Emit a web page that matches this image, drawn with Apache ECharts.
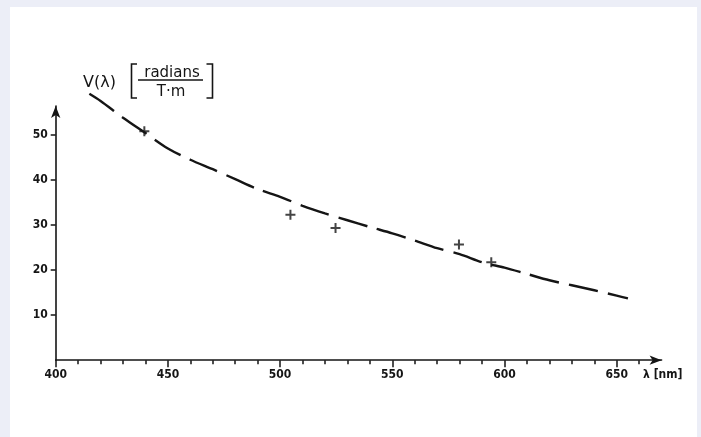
<!DOCTYPE html>
<html><head><meta charset="utf-8">
<script src="https://cdn.jsdelivr.net/npm/echarts@6/dist/echarts.min.js"></script>
<style>
html,body{margin:0;padding:0;background:#eceef7;}
#wrap{position:relative;width:701px;height:437px;background:#eceef7;overflow:hidden;}
#chart{position:absolute;left:10px;top:7px;width:687px;height:430px;background:#fff;}
</style></head><body><div id="wrap"><div id="chart"></div></div>
<script>
// Fitted curve V(lambda)
const curveWavelengths = [415,420,430,440,450,460,470,480,490,500,510,520,530,540,550,560,570,580,590,600,610,620,630,640,650,655];
const curveValues = [59.0,57.4,53.7,50.3,46.9,44.4,42.3,40.1,37.9,36.2,34.2,32.5,31.0,29.5,28.1,26.5,24.8,23.5,21.7,20.5,19.1,17.7,16.6,15.5,14.3,13.7];
// Measured points (+)
const measuredWavelengths = [439.5,504.6,524.7,579.7,594.1];
const measuredValues = [50.7,32.2,29.3,25.6,21.7];
// Axis ticks
const xMajorTicks = [400,450,500,550,600,650];
const xMinorTicks = [410,420,430,440,460,470,480,490,510,520,530,540,560,570,580,590,610,620,630,640,660];
const yTicks = [10,20,30,40,50];
const xMin = 400, xMax = 670, yMin = 0, yMax = 56.3;

const ink = '#151515';
const font = 'DejaVu Sans Condensed';
const chart = echarts.init(document.getElementById('chart'), null, {renderer:'canvas'});
const curveData = curveWavelengths.map((x,i)=>[x, curveValues[i]]);
const pointData = measuredWavelengths.map((x,i)=>[x, measuredValues[i]]);

chart.setOption({
  animation:false,
  backgroundColor:'#ffffff',
  grid:{left:45.7, top:99, width:605.9, height:254.2, containLabel:false},
  xAxis:[{
    type:'value', min:xMin, max:xMax, position:'bottom',
    name:'λ [nm]', nameLocation:'end', nameGap:-18.5,
    nameTextStyle:{color:ink, fontFamily:font, fontSize:12, fontWeight:'bold', verticalAlign:'top', align:'left', padding:[9,0,0,0]},
    axisLine:{show:true, onZero:false, symbol:['none','arrow'], symbolSize:[7,12], lineStyle:{color:ink, width:1.6}},
    axisTick:{show:true, customValues:xMajorTicks, length:7, lineStyle:{color:ink, width:1.5}},
    axisLabel:{show:true, customValues:xMajorTicks, margin:9, color:ink, fontFamily:font, fontSize:12, fontWeight:'bold'},
    splitLine:{show:false}
  },{
    type:'value', min:xMin, max:xMax, position:'bottom', offset:0,
    axisLine:{show:false, onZero:false},
    axisTick:{show:true, customValues:xMinorTicks, length:4, lineStyle:{color:ink, width:1.5}},
    axisLabel:{show:false},
    splitLine:{show:false}
  }],
  yAxis:{
    type:'value', min:yMin, max:yMax,
    axisLine:{show:true, onZero:false, symbol:['none','arrow'], symbolSize:[7,12], lineStyle:{color:ink, width:1.6}},
    axisTick:{show:true, customValues:yTicks, length:5, lineStyle:{color:ink, width:1.5}},
    axisLabel:{show:true, customValues:yTicks, margin:8, color:ink, fontFamily:font, fontSize:12, fontWeight:'bold'},
    splitLine:{show:false}
  },
  series:[{
    type:'line', xAxisIndex:0, data:curveData, smooth:0.3, showSymbol:false, clip:false,
    lineStyle:{color:ink, width:2.4, type:[30,10]}
  },{
    type:'scatter', xAxisIndex:0, data:pointData, clip:false,
    symbol:'path://M4,0H6V4H10V6H6V10H4V6H0V4H4Z', symbolSize:10,
    itemStyle:{color:ink}
  }],
  graphic:[
    {type:'text', left:73, top:68, style:{text:'V(λ)', fill:ink, font:'16px "DejaVu Sans"'}},
    {type:'polyline', shape:{points:[[127,57],[121.5,57],[121.5,91],[127,91]]}, style:{stroke:ink, lineWidth:1.6, fill:null}},
    {type:'polyline', shape:{points:[[196.5,57],[202.5,57],[202.5,91],[196.5,91]]}, style:{stroke:ink, lineWidth:1.6, fill:null}},
    {type:'text', x:162, y:66.5, style:{text:'radians', fill:ink, font:'15px "DejaVu Sans"', align:'center', verticalAlign:'middle'}},
    {type:'line', shape:{x1:128, y1:73, x2:193, y2:73}, style:{stroke:ink, lineWidth:1.5}},
    {type:'text', x:161, y:85.5, style:{text:'T·m', fill:ink, font:'15px "DejaVu Sans"', align:'center', verticalAlign:'middle'}}
  ]
});
</script></body></html>
